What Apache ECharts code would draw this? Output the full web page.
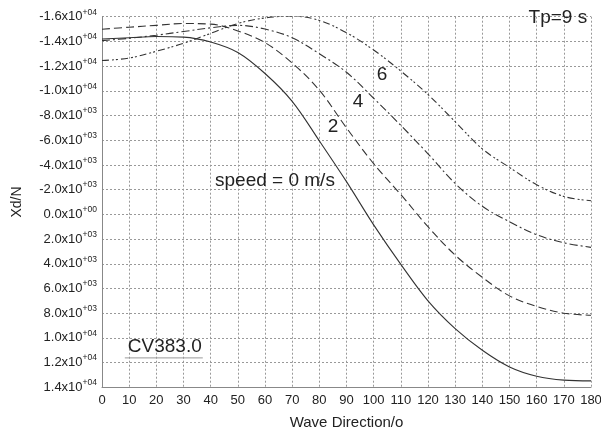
<!DOCTYPE html>
<html>
<head>
<meta charset="utf-8">
<script src="https://cdn.jsdelivr.net/npm/echarts@6/dist/echarts.min.js"></script>
<style>
html,body{margin:0;padding:0;background:#fff;}
#c{width:601px;height:434px;}
</style>
</head>
<body>
<div id="c"></div>
<script>
// Wave direction (degrees)
var directions = [0,10,20,30,40,50,60,70,80,90,100,110,120,130,140,150,160,170,180];
// Xd/N for each ship speed
var speed0 = [-14200,-14300,-14400,-14350,-13950,-13100,-11400,-9150,-5950,-2650,850,4050,7000,9250,11000,12350,13100,13420,13480];
var speed2 = [-14990,-15150,-15300,-15450,-15400,-14850,-13900,-12250,-10050,-7000,-4100,-1600,1000,3300,5100,6600,7450,8000,8170];
var speed4 = [-14060,-14250,-14500,-14800,-15100,-15300,-15000,-14300,-13000,-11500,-9400,-7200,-4900,-2500,-650,600,1650,2300,2670];
var speed6 = [-12450,-12650,-13200,-13850,-14650,-15450,-15900,-16050,-15700,-14700,-13300,-11600,-9700,-7500,-5300,-3800,-2400,-1450,-1100];
var seriesNames = ['0','2','4','6'];
var yMin = -16000, yMax = 14000, yStep = 2000;

function pairs(vals){ return directions.map(function(d,i){ return [d, vals[i]]; }); }

function sciLabel(v){
  var e = 0, m = 0;
  if (v !== 0) { e = Math.floor(Math.log10(Math.abs(v)) + 1e-9); m = v / Math.pow(10, e); }
  var es = (e >= 0 ? '+' : '-') + (Math.abs(e) < 10 ? '0' : '') + Math.abs(e);
  return '{a|' + m.toFixed(1) + 'x10}{b|' + es + '}';
}

var FONT = '"Liberation Sans", Arial, Helvetica, sans-serif';
var lineColor = '#333';
var styles = ['solid', [8,4], [8,3,2,3], [7,3,2,2,2,3]];
var data = [speed0, speed2, speed4, speed6];

var chart = echarts.init(document.getElementById('c'), null, {renderer:'canvas'});
var option = {
  animation: false,
  backgroundColor: '#fff',
  textStyle: {fontFamily: FONT},
  grid: {left: 102, right: 10, top: 16.7, bottom: 46.7, containLabel: false, outerBoundsMode: 'none'},
  xAxis: {
    type: 'value', min: 0, max: 180, interval: 10,
    name: 'Wave Direction/o', nameLocation: 'middle', nameGap: 28,
    nameTextStyle: {fontSize: 15, color: '#222', fontFamily: FONT},
    axisLine: {show: true, onZero: false, lineStyle: {color: '#888', width: 1}},
    axisTick: {show: false},
    axisLabel: {fontSize: 13, color: '#222', margin: 7, fontFamily: FONT},
    splitLine: {show: true, lineStyle: {type: [2,2], color: '#999', width: 1}}
  },
  yAxis: {
    type: 'value', inverse: true, min: yMin, max: yMax, interval: yStep,
    name: 'Xd/N', nameLocation: 'middle', nameGap: 78,
    nameTextStyle: {fontSize: 14, color: '#222', fontFamily: FONT},
    axisLine: {show: true, onZero: false, lineStyle: {color: '#888', width: 1}},
    axisTick: {show: false},
    axisLabel: {
      margin: 5, color: '#222',
      formatter: sciLabel,
      rich: {
        a: {fontSize: 13, color: '#222', fontFamily: FONT},
        b: {fontSize: 8.5, color: '#222', fontFamily: FONT, padding: [0,0,9,0]}
      }
    },
    splitLine: {show: true, lineStyle: {type: [2,2], color: '#999', width: 1}}
  },
  series: data.map(function(vals, i){
    return {
      name: seriesNames[i], type: 'line', smooth: 0.35, showSymbol: false,
      data: pairs(vals),
      lineStyle: {color: lineColor, width: 1.1, type: styles[i]},
      z: 3
    };
  })
};
chart.setOption(option);

function px(x, y){ return chart.convertToPixel({gridIndex: 0}, [x, y]); }
var annotations = [
  {text: '6', at: [103.1, -11280], align: 'center'},
  {text: '4', at: [94.2, -9140], align: 'center'},
  {text: '2', at: [85.0, -7110], align: 'center'},
  {text: 'speed = 0 m/s', at: [41.6, -2700], align: 'left'},
  {text: 'Tp=9 s', at: [178.6, -15940], align: 'right'},
  {text: 'CV383.0', at: [9.5, 10750], align: 'left'}
];
var graphics = annotations.map(function(a){
  var p = px(a.at[0], a.at[1]);
  return {type: 'text', x: p[0], y: p[1], z: 10,
    style: {text: a.text, fill: '#222', font: '19px ' + FONT, textAlign: a.align, textVerticalAlign: 'middle'}};
});
var u1 = px(8.4, 11620), u2 = px(37.1, 11620);
graphics.push({type: 'line', z: 10, shape: {x1: u1[0], y1: u1[1], x2: u2[0], y2: u2[1]}, style: {stroke: '#999', lineWidth: 1}});
chart.setOption({graphic: graphics});
</script>
</body>
</html>
